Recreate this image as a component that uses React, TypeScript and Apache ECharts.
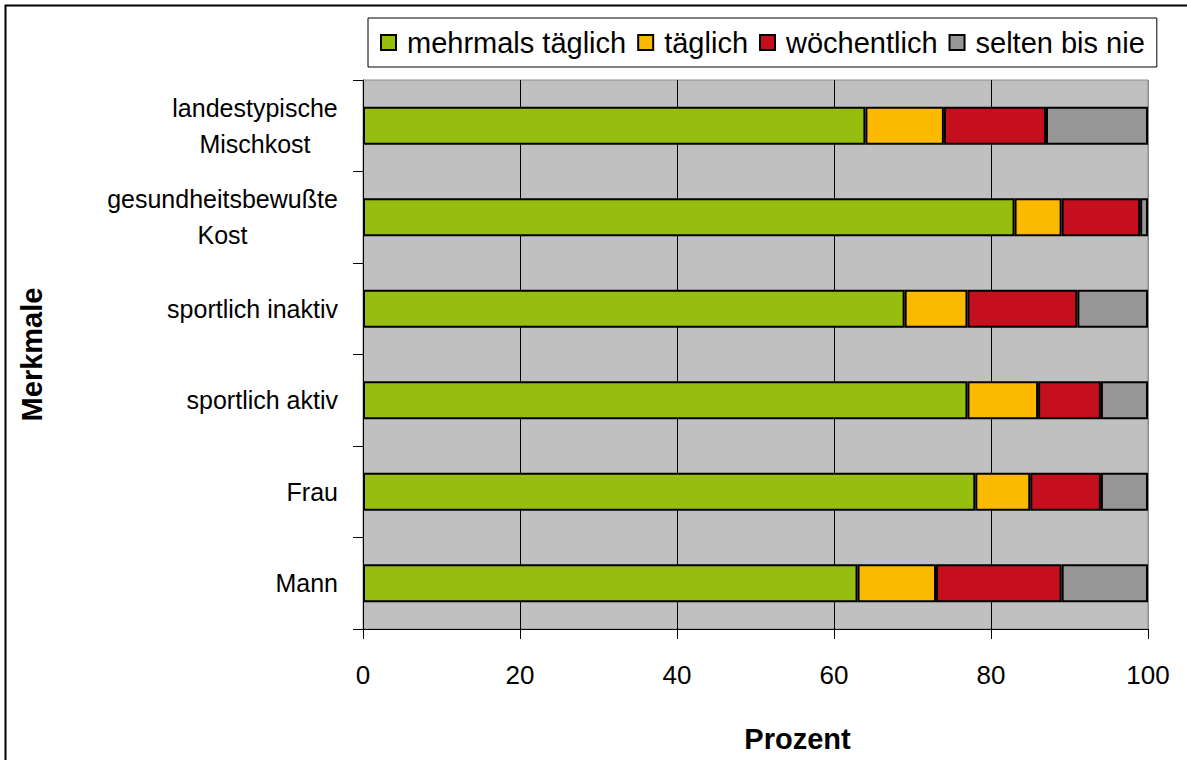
import React, { useEffect, useRef } from "react";
import * as echarts from "echarts";

// Ernährungsverhalten nach Merkmalen (Prozent, gestapelt auf 100)
const categories = [
  "landestypische\nMischkost",
  "gesundheitsbewußte\nKost",
  "sportlich inaktiv",
  "sportlich aktiv",
  "Frau",
  "Mann",
];
const seriesNames = ["mehrmals täglich", "täglich", "wöchentlich", "selten bis nie"];
const mehrmalsTaeglich = [64, 83, 69, 77, 78, 63];
const taeglich = [10, 6, 8, 9, 7, 10];
const woechentlich = [13, 10, 14, 8, 9, 16];
const seltenBisNie = [13, 1, 9, 6, 6, 11];
const xTicks = [0, 20, 40, 60, 80, 100];

const colors = ["#96be0f", "#fbba00", "#c50f1e", "#969696"];
const FONT = "'Liberation Sans', Arial, sans-serif";
const LABEL_FS = 25;
const LEGEND_FS = 29;
const TICK_FS = 26;
const TITLE_FS = 29;

function measure(text: string, size: number): number {
  const c = document.createElement("canvas").getContext("2d");
  if (!c) return text.length * size * 0.5;
  c.font = `${size}px ${FONT}`;
  return c.measureText(text).width;
}

export default function App() {
  const ref = useRef<HTMLDivElement>(null);

  useEffect(() => {
    if (!ref.current) return;
    const chart = echarts.init(ref.current, null, { renderer: "svg" });

    // Two-line labels: block right-aligned, lines centred within the block
    const rich: Record<string, any> = {};
    const labelKey: Record<string, string> = {};
    categories.forEach((cat, i) => {
      const lines = cat.split("\n");
      if (lines.length > 1) {
        const w = Math.ceil(Math.max(...lines.map((l) => measure(l, LABEL_FS))));
        const key = "c" + i;
        rich[key] = {
          width: w,
          align: "center",
          fontSize: LABEL_FS,
          fontFamily: FONT,
          color: "#000",
          lineHeight: 36,
        };
        labelKey[cat] = key;
      }
    });

    const data = [mehrmalsTaeglich, taeglich, woechentlich, seltenBisNie];

    chart.setOption({
      animation: false,
      backgroundColor: "#fff",
      textStyle: { fontFamily: FONT },
      graphic: [
        {
          type: "rect",
          shape: { x: 5.5, y: 5.5, width: 1300, height: 900 },
          style: { fill: "none", stroke: "#000", lineWidth: 2 },
          silent: true,
        },
      ],
      legend: {
        left: 368,
        top: 18,
        padding: [10, 12, 10, 12],
        borderColor: "#000",
        borderWidth: 1,
        itemWidth: 15,
        itemHeight: 15,
        itemGap: 11,
        icon: "rect",
        textStyle: {
          fontSize: LEGEND_FS,
          fontFamily: FONT,
          color: "#000",
          padding: [0, 0, 0, 6],
        },
        data: seriesNames,
      },
      grid: {
        left: 363,
        right: 39,
        top: 80,
        bottom: 131,
        containLabel: false,
        outerBoundsMode: "none",
        show: true,
        backgroundColor: "#c0c0c0",
        borderColor: "#8c8c8c",
        borderWidth: 1,
      },
      xAxis: {
        type: "value",
        min: xTicks[0],
        max: xTicks[xTicks.length - 1],
        interval: 20,
        name: "Prozent",
        nameLocation: "middle",
        nameGap: 95,
        nameTextStyle: {
          fontSize: TITLE_FS,
          fontWeight: "bold",
          fontFamily: FONT,
          color: "#000",
          padding: [0, 0, 0, 84],
        },
        axisLine: { show: true, lineStyle: { color: "#000", width: 1 } },
        axisTick: { show: true, length: 10, lineStyle: { color: "#000" } },
        axisLabel: { fontSize: TICK_FS, fontFamily: FONT, color: "#000", margin: 33 },
        splitLine: {
          show: true,
          lineStyle: { color: ["#000", "#000", "#000", "#000", "#000", "#8c8c8c"], width: 1 },
        },
      },
      yAxis: {
        type: "category",
        inverse: true,
        data: categories,
        name: "Merkmale",
        nameLocation: "middle",
        nameGap: 317,
        nameRotate: 90,
        nameTextStyle: { fontSize: TITLE_FS, fontWeight: "bold", fontFamily: FONT, color: "#000" },
        axisLine: { show: true, lineStyle: { color: "#000", width: 1 } },
        axisTick: { show: true, length: 10, lineStyle: { color: "#000" } },
        axisLabel: {
          fontSize: LABEL_FS,
          fontFamily: FONT,
          color: "#000",
          margin: 25,
          lineHeight: 36,
          interval: 0,
          rich,
          formatter: (v: string) => {
            const key = labelKey[v];
            if (!key) return v;
            return v
              .split("\n")
              .map((l) => `{${key}|${l}}`)
              .join("\n");
          },
        },
        splitLine: { show: false },
      },
      series: seriesNames.map((name, i) => ({
        name,
        type: "bar",
        stack: "total",
        barWidth: 38,
        data: data[i],
        itemStyle: { color: colors[i], borderColor: "#000", borderWidth: 2 },
        emphasis: { disabled: true },
      })),
    });

    return () => chart.dispose();
  }, []);

  return (
    <div
      ref={ref}
      style={{ position: "absolute", left: 0, top: 0, width: 1187, height: 760 }}
    />
  );
}
